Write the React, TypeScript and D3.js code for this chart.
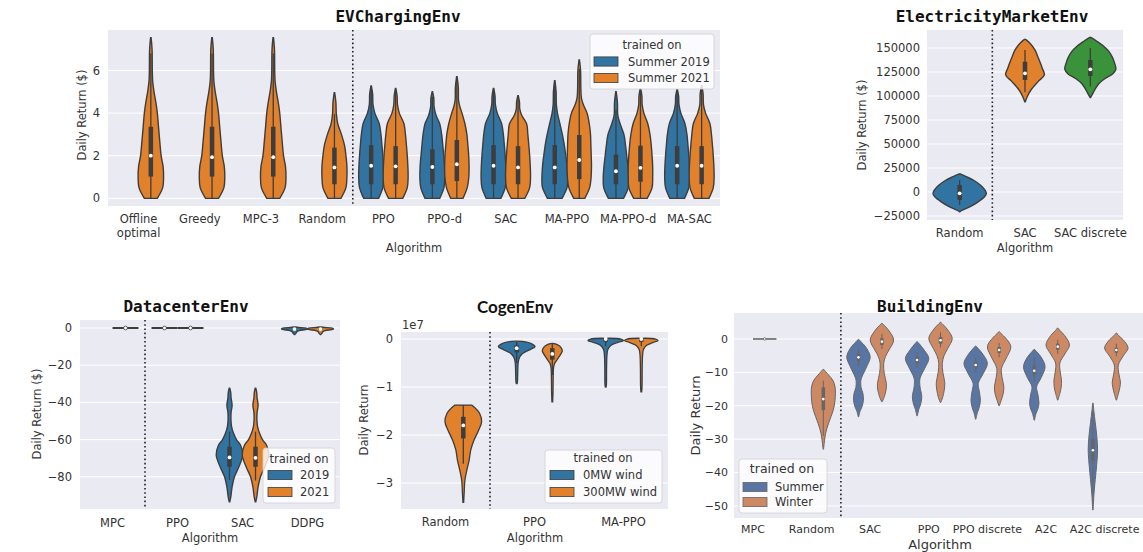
import React from 'react';
import * as d3 from 'd3';

type Knot = [number, number]; // [value, relative half-width 0..1]
type Violin = {
  cat: number; hue: number; shape?: Knot[]; flat?: number;
  q1?: number; med?: number; q3?: number; lo?: number; hi?: number;
};

const SANS = '"DejaVu Sans", sans-serif';
const MONO = '"DejaVu Sans Mono", monospace';

// seaborn colours at saturation .75
const tabColors = ['#3274a1', '#e1812c', '#3a923a'];
const deepColors = ['#5975a4', '#cc8963'];

// ---------------- EVChargingEnv ----------------
const evCategories = ['Offline\noptimal', 'Greedy', 'MPC-3', 'Random', 'PPO', 'PPO-d', 'SAC', 'MA-PPO', 'MA-PPO-d', 'MA-SAC'];
const evHues = ['Summer 2019', 'Summer 2021'];
const evTicks = [0, 2, 4, 6];
const evShapeOptimal: Knot[] = [[0, 0.53], [0.5, 0.97], [1, 1.04], [1.5, 1.0], [2, 0.84], [2.6, 0.74], [3.4, 0.62], [4, 0.53], [4.5, 0.41], [5, 0.26], [5.5, 0.15], [6, 0.12], [7, 0.1], [7.54, 0.02]];
const evShapeRandom: Knot[] = [[0, 0.53], [0.5, 0.94], [1, 1.02], [1.5, 1.02], [2, 0.94], [2.5, 0.82], [3, 0.57], [3.5, 0.27], [4, 0.15], [4.5, 0.12], [4.96, 0.02]];
const evShapePpo: Knot[] = [[0, 0.61], [0.5, 0.95], [1, 1.02], [1.5, 1.0], [2, 0.95], [2.5, 0.88], [3, 0.8], [3.5, 0.66], [4, 0.3], [4.4, 0.15], [4.9, 0.12], [5.27, 0.02]];
const evShapePpoO: Knot[] = [[0, 0.58], [0.5, 0.95], [1, 1.02], [1.5, 1.0], [2, 0.95], [2.5, 0.88], [3, 0.8], [3.5, 0.68], [4, 0.3], [4.4, 0.15], [4.8, 0.12], [5.16, 0.02]];
const evShapePpodB: Knot[] = [[0, 0.6], [0.5, 0.95], [1, 1.02], [1.5, 1.0], [2, 0.93], [2.5, 0.85], [3, 0.76], [3.5, 0.6], [3.9, 0.3], [4.3, 0.14], [4.7, 0.12], [5.0, 0.02]];
const evShapePpodO: Knot[] = [[0, 0.5], [0.5, 0.85], [1, 0.98], [1.5, 1.0], [2, 0.97], [2.5, 0.9], [3, 0.82], [3.5, 0.66], [4, 0.42], [4.3, 0.25], [4.6, 0.14], [5.2, 0.12], [5.71, 0.02]];
const evShapeSacB: Knot[] = [[0, 0.6], [0.5, 0.95], [1, 1.02], [1.5, 1.0], [2, 0.95], [2.5, 0.88], [3, 0.8], [3.5, 0.66], [4, 0.3], [4.4, 0.15], [4.8, 0.12], [5.16, 0.02]];
const evShapeSacO: Knot[] = [[0, 0.55], [0.5, 0.95], [1, 1.02], [1.5, 1.0], [2, 0.95], [2.5, 0.88], [3, 0.8], [3.5, 0.7], [3.9, 0.3], [4.2, 0.14], [4.5, 0.12], [4.82, 0.02]];
const evShapeMappoB: Knot[] = [[0, 0.6], [0.5, 1.0], [0.8, 1.05], [1.5, 1.0], [2, 0.9], [2.5, 0.78], [3, 0.62], [3.5, 0.42], [4, 0.22], [4.4, 0.13], [5, 0.11], [5.52, 0.02]];
const evShapeMappoO: Knot[] = [[0, 0.45], [0.5, 0.85], [1, 0.97], [1.5, 1.0], [2, 0.98], [2.5, 0.95], [3, 0.92], [3.5, 0.82], [4, 0.64], [4.4, 0.33], [4.7, 0.18], [5.2, 0.13], [6, 0.11], [6.49, 0.02]];
const evShapeMappodB: Knot[] = [[0, 0.62], [0.5, 1.0], [1, 1.04], [1.5, 0.98], [2, 0.88], [2.5, 0.78], [3, 0.65], [3.5, 0.34], [3.9, 0.15], [4.5, 0.12], [5.0, 0.02]];
const evShapeMappodO: Knot[] = [[0, 0.55], [0.5, 0.95], [1, 1.0], [1.5, 1.0], [2, 0.95], [2.5, 0.88], [3, 0.78], [3.5, 0.6], [4, 0.28], [4.4, 0.14], [4.8, 0.12], [5.15, 0.02]];
const evShapeMasacB: Knot[] = [[0, 0.6], [0.5, 0.95], [1, 1.02], [1.5, 1.0], [2, 0.95], [2.5, 0.88], [3, 0.8], [3.5, 0.64], [4, 0.3], [4.4, 0.15], [4.8, 0.12], [5.1, 0.02]];
const evShapeMasacO: Knot[] = [[0, 0.6], [0.5, 0.95], [1, 1.02], [1.5, 1.0], [2, 0.95], [2.5, 0.88], [3, 0.8], [3.5, 0.68], [4, 0.32], [4.4, 0.15], [4.9, 0.12], [5.27, 0.02]];
const evViolins: Violin[] = [
  { cat: 0, hue: 1, shape: evShapeOptimal, q1: 1.02, med: 2.0, q3: 3.36, lo: 0, hi: 6.8 },
  { cat: 1, hue: 1, shape: evShapeOptimal, q1: 1.02, med: 1.93, q3: 3.36, lo: 0, hi: 6.8 },
  { cat: 2, hue: 1, shape: evShapeOptimal, q1: 1.02, med: 1.93, q3: 3.36, lo: 0, hi: 6.8 },
  { cat: 3, hue: 1, shape: evShapeRandom, q1: 0.66, med: 1.45, q3: 2.38, lo: 0, hi: 3.95 },
  { cat: 4, hue: 0, shape: evShapePpo, q1: 0.66, med: 1.53, q3: 2.5, lo: 0, hi: 5.2 },
  { cat: 4, hue: 1, shape: evShapePpoO, q1: 0.66, med: 1.5, q3: 2.45, lo: 0, hi: 5.1 },
  { cat: 5, hue: 0, shape: evShapePpodB, q1: 0.66, med: 1.47, q3: 2.3, lo: 0, hi: 4.76 },
  { cat: 5, hue: 1, shape: evShapePpodO, q1: 0.81, med: 1.6, q3: 2.74, lo: 0, hi: 5.6 },
  { cat: 6, hue: 0, shape: evShapeSacB, q1: 0.66, med: 1.53, q3: 2.5, lo: 0, hi: 5.1 },
  { cat: 6, hue: 1, shape: evShapeSacO, q1: 0.66, med: 1.45, q3: 2.45, lo: 0, hi: 4.8 },
  { cat: 7, hue: 0, shape: evShapeMappoB, q1: 0.66, med: 1.45, q3: 2.5, lo: 0, hi: 5.26 },
  { cat: 7, hue: 1, shape: evShapeMappoO, q1: 0.9, med: 1.8, q3: 2.97, lo: 0, hi: 6.07 },
  { cat: 8, hue: 0, shape: evShapeMappodB, q1: 0.66, med: 1.27, q3: 2.06, lo: 0, hi: 4.16 },
  { cat: 8, hue: 1, shape: evShapeMappodO, q1: 0.78, med: 1.43, q3: 2.47, lo: 0, hi: 5.0 },
  { cat: 9, hue: 0, shape: evShapeMasacB, q1: 0.66, med: 1.53, q3: 2.45, lo: 0, hi: 5.1 },
  { cat: 9, hue: 1, shape: evShapeMasacO, q1: 0.66, med: 1.53, q3: 2.45, lo: 0, hi: 5.1 },
];

// ---------------- ElectricityMarketEnv ----------------
const emCategories = ['Random', 'SAC', 'SAC discrete'];
const emTicks = [-25000, 0, 25000, 50000, 75000, 100000, 125000, 150000];
const emViolins: Violin[] = [
  { cat: 0, hue: 0, shape: [[-20500, 0.01], [-19000, 0.1], [-15000, 0.42], [-10000, 0.72], [-5000, 0.95], [-1500, 1.02], [2000, 0.97], [7000, 0.8], [12000, 0.55], [16000, 0.25], [18800, 0.02]], q1: -8300, med: -1400, q3: 7300, lo: -13500, hi: 12500 },
  { cat: 1, hue: 1, shape: [[94000, 0.01], [99000, 0.08], [106000, 0.22], [115000, 0.5], [122000, 0.74], [129000, 0.66], [139000, 0.52], [148000, 0.38], [155000, 0.19], [159000, 0.02]], q1: 116700, med: 123600, q3: 135700, lo: 104000, hi: 148000 },
  { cat: 2, hue: 2, shape: [[98500, 0.01], [102000, 0.08], [107000, 0.18], [113000, 0.33], [118000, 0.55], [123000, 0.85], [128000, 0.98], [134000, 0.93], [140000, 0.85], [146000, 0.72], [152000, 0.5], [157000, 0.25], [161000, 0.02]], q1: 120800, med: 127800, q3: 137500, lo: 110000, hi: 150000 },
];

// ---------------- DatacenterEnv ----------------
const dcCategories = ['MPC', 'PPO', 'SAC', 'DDPG'];
const dcHues = ['2019', '2021'];
const dcTicks = [0, -20, -40, -60, -80];
const dcShapeSac: Knot[] = [[-93.4, 0.02], [-90.8, 0.1], [-85.4, 0.2], [-80, 0.38], [-74.6, 0.72], [-68.3, 1.02], [-63, 0.85], [-60.3, 0.56], [-56.6, 0.31], [-53, 0.16], [-49.5, 0.11], [-45.5, 0.12], [-41.5, 0.2], [-37.5, 0.12], [-34.5, 0.09], [-32.4, 0.02]];
const dcShapeDdpg: Knot[] = [[-3.5, 0.02], [-2.8, 0.12], [-2.0, 0.18], [-1.4, 0.35], [-0.9, 0.85], [-0.5, 1.0], [-0.1, 0.9], [0.3, 0.3], [0.5, 0.02]];
const dcViolins: Violin[] = [
  { cat: 0, hue: 1, flat: 0 },
  { cat: 1, hue: 0, flat: 0 },
  { cat: 1, hue: 1, flat: 0 },
  { cat: 2, hue: 0, shape: dcShapeSac, q1: -74.6, med: -69.6, q3: -63.8, lo: -81.7, hi: -55.7 },
  { cat: 2, hue: 1, shape: dcShapeSac, q1: -74.6, med: -69.8, q3: -63.8, lo: -82, hi: -55.7 },
  { cat: 3, hue: 0, shape: dcShapeDdpg, q1: -0.9, med: -0.6, q3: -0.3, lo: -1.5, hi: 0.3 },
  { cat: 3, hue: 1, shape: dcShapeDdpg, q1: -0.9, med: -0.6, q3: -0.3, lo: -1.5, hi: 0.3 },
];

// ---------------- CogenEnv (values in 1e7) ----------------
const cgCategories = ['Random', 'PPO', 'MA-PPO'];
const cgHues = ['0MW wind', '300MW wind'];
const cgTicks = [0, -1, -2, -3];
const cgViolins: Violin[] = [
  { cat: 0, hue: 1, shape: [[-3.4, 0.02], [-3.2, 0.05], [-2.94, 0.09], [-2.73, 0.2], [-2.52, 0.33], [-2.31, 0.42], [-2.1, 0.61], [-1.9, 0.86], [-1.72, 1.03], [-1.55, 0.92], [-1.45, 0.7], [-1.375, 0.47]], q1: -2.07, med: -1.8, q3: -1.62, lo: -2.6, hi: -1.38 },
  { cat: 1, hue: 0, shape: [[-0.93, 0.02], [-0.9, 0.04], [-0.7, 0.06], [-0.5, 0.08], [-0.38, 0.16], [-0.3, 0.33], [-0.22, 0.75], [-0.16, 1.03], [-0.1, 0.85], [-0.06, 0.5], [-0.045, 0.02]], q1: -0.28, med: -0.19, q3: -0.13, lo: -0.5, hi: -0.06 },
  { cat: 1, hue: 1, shape: [[-1.31, 0.02], [-1.1, 0.04], [-0.8, 0.05], [-0.6, 0.07], [-0.51, 0.13], [-0.4, 0.33], [-0.3, 0.5], [-0.25, 0.56], [-0.16, 0.45], [-0.11, 0.25], [-0.09, 0.02]], q1: -0.43, med: -0.31, q3: -0.19, lo: -0.75, hi: -0.09 },
  { cat: 2, hue: 0, shape: [[-1.0, 0.02], [-0.95, 0.04], [-0.6, 0.05], [-0.35, 0.07], [-0.22, 0.12], [-0.13, 0.3], [-0.07, 0.7], [-0.035, 1.0], [0.0, 0.85], [0.015, 0.02]], q1: -0.06, med: 0.0, q3: 0.0, lo: -0.15, hi: 0.012 },
  { cat: 2, hue: 1, shape: [[-1.1, 0.02], [-1.0, 0.04], [-0.6, 0.05], [-0.35, 0.07], [-0.22, 0.12], [-0.13, 0.3], [-0.07, 0.68], [-0.035, 0.94], [0.0, 0.8], [0.015, 0.02]], q1: -0.06, med: 0.0, q3: 0.0, lo: -0.15, hi: 0.012 },
];

// ---------------- BuildingEnv ----------------
const bdCategories = ['MPC', 'Random', 'SAC', 'PPO', 'PPO discrete', 'A2C', 'A2C discrete'];
const bdHues = ['Summer', 'Winter'];
const bdTicks = [0, -10, -20, -30, -40, -50];
const bdViolins: Violin[] = [
  { cat: 0, hue: 1, flat: 0 },
  { cat: 1, hue: 1, shape: [[-33, 0.02], [-30.5, 0.1], [-28.2, 0.2], [-25.2, 0.45], [-21.3, 0.85], [-18.3, 1.0], [-14.3, 1.0], [-12.3, 0.8], [-10.8, 0.45], [-9.1, 0.03]], q1: -21.3, med: -18, q3: -14.5, lo: -29, hi: -12.5 },
  { cat: 2, hue: 0, shape: [[-23.3, 0.02], [-21.5, 0.15], [-20.3, 0.3], [-18.3, 0.42], [-16.3, 0.38], [-14.5, 0.22], [-12.5, 0.2], [-11.3, 0.3], [-8.3, 0.7], [-5.3, 1.0], [-2.3, 0.6], [-0.8, 0.2], [-0.1, 0.02]], q1: -6.6, med: -5.5, q3: -4.4, lo: -8, hi: -3 },
  { cat: 2, hue: 1, shape: [[-18.8, 0.02], [-17.3, 0.2], [-15.3, 0.35], [-13.3, 0.38], [-10.3, 0.2], [-7.3, 0.15], [-5.3, 0.3], [-3.3, 0.6], [-0.3, 1.0], [2.7, 0.55], [4.7, 0.02]], q1: -1.8, med: -0.8, q3: 0.2, lo: -3, hi: 1.5 },
  { cat: 3, hue: 0, shape: [[-23, 0.02], [-21, 0.15], [-19.8, 0.28], [-17.3, 0.4], [-14.3, 0.25], [-11.8, 0.25], [-8.8, 0.65], [-5.8, 1.0], [-3.3, 0.6], [-1.5, 0.2], [-0.8, 0.02]], q1: -7.3, med: -6.3, q3: -5.3, lo: -8.5, hi: -4 },
  { cat: 3, hue: 1, shape: [[-19, 0.02], [-17.5, 0.18], [-15, 0.33], [-13, 0.36], [-10, 0.2], [-7.3, 0.15], [-5, 0.3], [-2.8, 0.62], [0.2, 1.0], [3, 0.55], [5, 0.02]], q1: -1.4, med: -0.4, q3: 0.6, lo: -2.5, hi: 2 },
  { cat: 4, hue: 0, shape: [[-24, 0.02], [-22, 0.15], [-20.5, 0.3], [-18.3, 0.4], [-15.5, 0.3], [-13.3, 0.22], [-10.3, 0.65], [-7.3, 1.0], [-4.5, 0.6], [-2.8, 0.2], [-2.1, 0.02]], q1: -8.8, med: -7.8, q3: -6.8, lo: -10, hi: -5.5 },
  { cat: 4, hue: 1, shape: [[-20, 0.02], [-18.3, 0.18], [-16.3, 0.35], [-14.3, 0.4], [-11.5, 0.25], [-8.8, 0.2], [-5.8, 0.6], [-2.3, 1.0], [0.3, 0.55], [1.5, 0.2], [2.2, 0.02]], q1: -4.2, med: -3.3, q3: -2.4, lo: -5.5, hi: -1.2 },
  { cat: 5, hue: 0, shape: [[-24.3, 0.02], [-22.3, 0.15], [-21, 0.3], [-19.3, 0.4], [-16.5, 0.3], [-14.3, 0.2], [-11.5, 0.6], [-8.3, 0.92], [-5.5, 0.6], [-3.8, 0.2], [-3.1, 0.02]], q1: -10.8, med: -9.5, q3: -8, lo: -13, hi: -5.5 },
  { cat: 5, hue: 1, shape: [[-18.3, 0.02], [-16.3, 0.18], [-14.3, 0.3], [-12.3, 0.32], [-10, 0.22], [-7.2, 0.18], [-4.5, 0.6], [-1.8, 1.0], [1, 0.6], [2.5, 0.2], [3.3, 0.02]], q1: -3.2, med: -2.3, q3: -1.4, lo: -4.5, hi: -0.2 },
  { cat: 6, hue: 0, shape: [[-51.2, 0.02], [-47, 0.08], [-44, 0.15], [-40, 0.26], [-36, 0.36], [-33, 0.4], [-29, 0.33], [-25, 0.2], [-21.5, 0.08], [-19.2, 0.02]], q1: -36.5, med: -33.3, q3: -30, lo: -46, hi: -22 },
  { cat: 6, hue: 1, shape: [[-18.3, 0.02], [-16.3, 0.18], [-14.5, 0.3], [-12.9, 0.35], [-10.5, 0.22], [-7.8, 0.17], [-5, 0.6], [-2.7, 1.0], [-0.3, 0.6], [1, 0.2], [1.8, 0.02]], q1: -4.1, med: -3.3, q3: -2.6, lo: -5.2, hi: -1.4 },
];

type LegendCfg = {
  x: number; y: number; w: number; h: number; titleX: number; titleY: number;
  rows: number[]; patchX: number; textX: number; titleSize: number; itemSize: number; labels: string[];
};

type PanelCfg = {
  title: string; titleFont: string; titleWeight: number; titleSize: number; titleX: number; titleY: number;
  left: number; right: number; top: number; bottom: number;
  xDomain: [number, number]; yDomain: [number, number];
  categories: string[]; ticks: number[]; violins: Violin[]; colors: string[]; dodge: boolean;
  edge: string; edgeW: number; boxW: number; dotR: number; divider: number;
  yLabel: string; yLabelX: number; yLabelY: number; tickRight: number;
  tickLabelY: number; xLabelX: number; xLabelY: number; tickSize: number; labelSize: number;
  legend?: LegendCfg; offsetText?: { text: string; x: number; y: number };
};

const fmt = d3.format('d');

function Legend({ c, lg }: { c: PanelCfg; lg: LegendCfg }) {
  return (
    <g>
      <rect x={lg.x} y={lg.y} width={lg.w} height={lg.h} rx={3} fill="#fff" fillOpacity={0.8} stroke="#d0d0d0" strokeWidth={0.8} />
      <text x={lg.titleX} y={lg.titleY} textAnchor="middle" fontSize={lg.titleSize} fill="#333">trained on</text>
      {lg.labels.map((lab, i) => (
        <g key={lab}>
          <rect x={lg.patchX} y={lg.rows[i] - 4.6} width={24} height={9.2} fill={c.colors[i]} stroke={c.edge} strokeWidth={0.8} />
          <text x={lg.textX} y={lg.rows[i]} dy="0.35em" fontSize={lg.itemSize} fill="#333">{lab}</text>
        </g>
      ))}
    </g>
  );
}

function Panel({ c }: { c: PanelCfg }) {
  const x = d3.scaleLinear().domain(c.xDomain).range([c.left, c.right]);
  const y = d3.scaleLinear().domain(c.yDomain).range([c.bottom, c.top]);
  const step = x(1) - x(0);
  const full = c.dodge ? 0.4 * step : 0.8 * step;
  const w = d3.scaleLinear().domain([0, 1]).range([0, full / 2]);
  const centre = (v: Violin) => x(v.cat) + (c.dodge ? (v.hue === 0 ? -0.2 : 0.2) * step : 0);

  return (
    <g>
      <rect x={c.left} y={c.top} width={c.right - c.left} height={c.bottom - c.top} fill="#eaeaf2" />
      {c.ticks.map(t => (
        <g key={t}>
          <line x1={c.left} x2={c.right} y1={y(t)} y2={y(t)} stroke="#fff" strokeWidth={1} />
          <text x={c.tickRight} y={y(t)} dy="0.35em" textAnchor="end" fontSize={c.tickSize} fill="#333">{fmt(t)}</text>
        </g>
      ))}
      {c.violins.map((v, i) => {
        const cx = centre(v);
        const col = c.colors[v.hue];
        if (v.flat !== undefined) {
          return (
            <g key={i}>
              <line x1={cx - full / 2} x2={cx + full / 2} y1={y(v.flat)} y2={y(v.flat)} stroke={c.edge} strokeWidth={c.edgeW + 0.6} />
              <circle cx={cx} cy={y(v.flat)} r={c.dotR} fill="#fff" stroke={c.edge} strokeWidth={0.8} />
            </g>
          );
        }
        const pts = [...(v.shape as Knot[])].sort((a, b) => a[0] - b[0]);
        const area = d3.area<Knot>()
          .y(d => y(d[0]))
          .x0(d => cx - w(d[1]))
          .x1(d => cx + w(d[1]))
          .curve(d3.curveCatmullRom.alpha(0.5));
        return (
          <g key={i}>
            <path d={area(pts) || ''} fill={col} stroke={c.edge} strokeWidth={c.edgeW} />
            <line x1={cx} x2={cx} y1={y(v.lo as number)} y2={y(v.hi as number)} stroke={c.edge} strokeWidth={c.boxW / 3.5} />
            <line x1={cx} x2={cx} y1={y(v.q1 as number)} y2={y(v.q3 as number)} stroke={c.edge} strokeWidth={c.boxW} />
            <circle cx={cx} cy={y(v.med as number)} r={c.dotR} fill="#fff" />
          </g>
        );
      })}
      <line x1={x(c.divider)} x2={x(c.divider)} y1={c.top} y2={c.bottom} stroke="#222" strokeWidth={1.6} strokeDasharray="1.6,2.6" />
      {c.categories.map((name, i) => (
        <text key={name} x={x(i)} y={c.tickLabelY} textAnchor="middle" fontSize={c.tickSize} fill="#333">
          {name.split('\n').map((line, j) => (
            <tspan key={j} x={x(i)} dy={j === 0 ? 0 : c.tickSize * 1.2}>{line}</tspan>
          ))}
        </text>
      ))}
      <text x={c.xLabelX} y={c.xLabelY} textAnchor="middle" fontSize={c.labelSize} fill="#333">Algorithm</text>
      <text transform={`translate(${c.yLabelX},${c.yLabelY}) rotate(-90)`} textAnchor="middle" dy="0.35em" fontSize={c.labelSize} fill="#333">{c.yLabel}</text>
      <text x={c.titleX} y={c.titleY} textAnchor="middle" fontFamily={c.titleFont} fontWeight={c.titleWeight} fontSize={c.titleSize} fill="#111">{c.title}</text>
      {c.offsetText && (
        <text x={c.offsetText.x} y={c.offsetText.y} fontSize={c.tickSize} fill="#333">{c.offsetText.text}</text>
      )}
      {c.legend && <Legend c={c} lg={c.legend} />}
    </g>
  );
}

const panels: PanelCfg[] = [
  {
    title: 'EVChargingEnv', titleFont: MONO, titleWeight: 700, titleSize: 16, titleX: 398, titleY: 22,
    left: 108, right: 720, top: 30, bottom: 206, xDomain: [-0.5, 9.5], yDomain: [-0.36, 7.9],
    categories: evCategories, ticks: evTicks, violins: evViolins, colors: tabColors, dodge: true,
    edge: '#3d3d3d', edgeW: 1.4, boxW: 4.5, dotR: 1.9, divider: 3.5,
    yLabel: 'Daily Return ($)', yLabelX: 82, yLabelY: 115, tickRight: 100,
    tickLabelY: 223, xLabelX: 414, xLabelY: 252, tickSize: 11.5, labelSize: 11.5,
    legend: { x: 590, y: 34, w: 124, h: 55, titleX: 652, titleY: 49, rows: [61.5, 78], patchX: 594, textX: 628, titleSize: 11.5, itemSize: 11.5, labels: evHues },
  },
  {
    title: 'ElectricityMarketEnv', titleFont: MONO, titleWeight: 700, titleSize: 16, titleX: 992, titleY: 22,
    left: 927, right: 1123, top: 30, bottom: 220, xDomain: [-0.5, 2.5], yDomain: [-29170, 168750],
    categories: emCategories, ticks: emTicks, violins: emViolins, colors: tabColors, dodge: false,
    edge: '#3d3d3d', edgeW: 1.4, boxW: 4.5, dotR: 1.9, divider: 0.5,
    yLabel: 'Daily Return ($)', yLabelX: 862, yLabelY: 125, tickRight: 920,
    tickLabelY: 237, xLabelX: 1025, xLabelY: 252, tickSize: 11.5, labelSize: 11.5,
  },
  {
    title: 'DatacenterEnv', titleFont: MONO, titleWeight: 700, titleSize: 16, titleX: 186, titleY: 312,
    left: 80, right: 340, top: 320, bottom: 509, xDomain: [-0.5, 3.5], yDomain: [-97.3, 4.3],
    categories: dcCategories, ticks: dcTicks, violins: dcViolins, colors: tabColors, dodge: true,
    edge: '#3d3d3d', edgeW: 1.4, boxW: 4.5, dotR: 1.9, divider: 0.5,
    yLabel: 'Daily Return ($)', yLabelX: 37, yLabelY: 414, tickRight: 72,
    tickLabelY: 527, xLabelX: 210, xLabelY: 542, tickSize: 11.5, labelSize: 11.5,
    legend: { x: 263, y: 448, w: 72, h: 55, titleX: 299, titleY: 463, rows: [475, 492], patchX: 268, textX: 300, titleSize: 11.5, itemSize: 11.5, labels: dcHues },
  },
  {
    title: 'CogenEnv', titleFont: 'Lato, sans-serif', titleWeight: 700, titleSize: 17, titleX: 515, titleY: 313,
    left: 401, right: 668, top: 332, bottom: 509, xDomain: [-0.5, 2.5], yDomain: [-3.54, 0.146],
    categories: cgCategories, ticks: cgTicks, violins: cgViolins, colors: tabColors, dodge: true,
    edge: '#3d3d3d', edgeW: 1.3, boxW: 4.5, dotR: 1.9, divider: 0.5,
    yLabel: 'Daily Return', yLabelX: 364, yLabelY: 420, tickRight: 393,
    tickLabelY: 526, xLabelX: 535, xLabelY: 542, tickSize: 11.5, labelSize: 11.5,
    legend: { x: 545, y: 450, w: 117, h: 53, titleX: 603, titleY: 462, rows: [475, 492], patchX: 550, textX: 583, titleSize: 11.5, itemSize: 11.5, labels: cgHues },
    offsetText: { text: '1e7', x: 402, y: 329 },
  },
  {
    title: 'BuildingEnv', titleFont: MONO, titleWeight: 700, titleSize: 16, titleX: 930, titleY: 312,
    left: 734, right: 1143, top: 313, bottom: 518, xDomain: [-0.324, 6.655], yDomain: [-53.6, 7.78],
    categories: bdCategories, ticks: bdTicks, violins: bdViolins, colors: deepColors, dodge: true,
    edge: '#666', edgeW: 1.0, boxW: 3.5, dotR: 1.3, divider: 1.5,
    yLabel: 'Daily Return', yLabelX: 695, yLabelY: 415.5, tickRight: 728,
    tickLabelY: 533, xLabelX: 940, xLabelY: 549, tickSize: 11, labelSize: 13,
    legend: { x: 739, y: 459, w: 88, h: 54, titleX: 782, titleY: 473, rows: [487, 502], patchX: 743, textX: 775, titleSize: 12.5, itemSize: 11.5, labels: bdHues },
  },
];

export default function App() {
  return (
    <svg width={1143} height={552} style={{ position: 'absolute', left: 0, top: 0, background: '#fff' }} fontFamily={SANS}>
      {panels.map(p => <Panel key={p.title} c={p} />)}
    </svg>
  );
}
